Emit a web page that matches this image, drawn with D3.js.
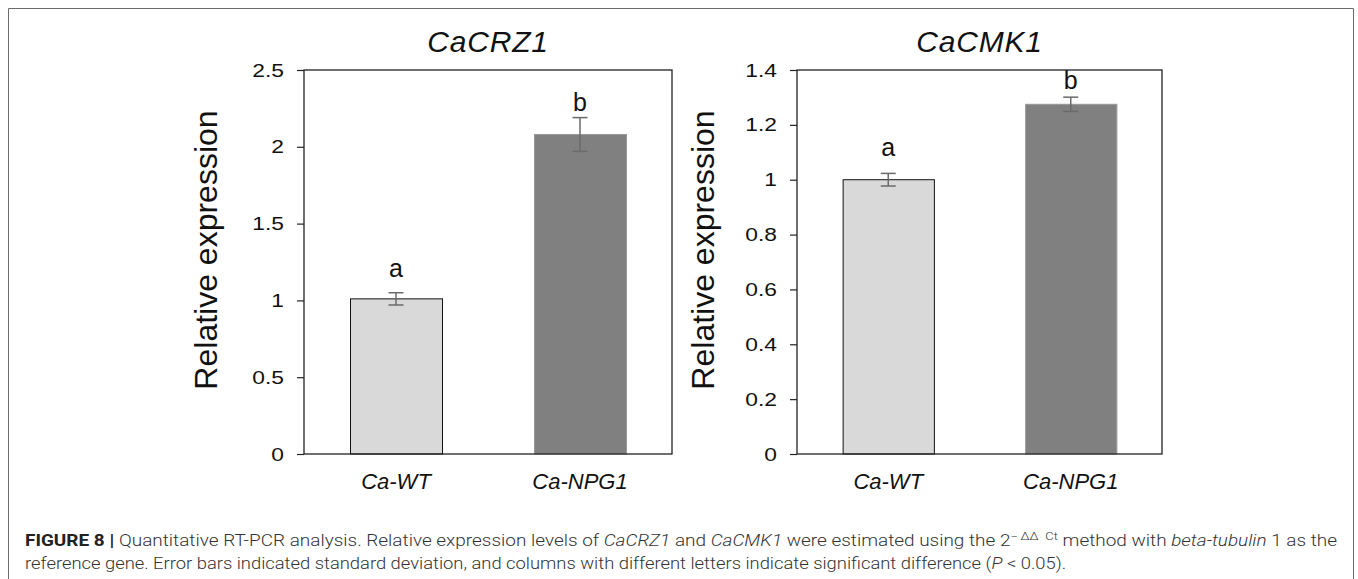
<!DOCTYPE html>
<html>
<head>
<meta charset="utf-8">
<script src="https://cdn.jsdelivr.net/npm/d3@7"></script>
<style>
  body { margin: 0; background: #fff; }
  svg { display: block; }
</style>
</head>
<body>
<svg id="chart" width="1358" height="579"></svg>
<script>
// Dữ liệu
const categories = ["Ca-WT", "Ca-NPG1"];
const barColors = ["#d9d9d9", "#808080"];

const crzTitle = "CaCRZ1";
const crzMeans = [1.01, 2.08];
const crzErrors = [0.04, 0.11];
const crzLetters = ["a", "b"];
const crzLetterY = [1.15, 2.23];
const crzTicks = [0, 0.5, 1, 1.5, 2, 2.5];

const cmkTitle = "CaCMK1";
const cmkMeans = [1.0, 1.275];
const cmkErrors = [0.023, 0.026];
const cmkLetters = ["a", "b"];
const cmkLetterY = [1.085, 1.33];
const cmkTicks = [0, 0.2, 0.4, 0.6, 0.8, 1, 1.2, 1.4];

const svg = d3.select("#chart");
const chartFont = "'Liberation Sans', Arial, sans-serif";

// Khung ngoài của hình
svg.append("path")
    .attr("d", "M8.5,579 V8.5 H1353.5 V579")
    .attr("fill", "none")
    .attr("stroke", "#6b6b6b")
    .attr("stroke-width", 1);

function drawPanel(cfg) {
    const { left, right, top, bottom, title, means, errors, letters, letterY, ticks, labelX } = cfg;

    const x = d3.scaleBand()
        .domain(categories)
        .range([left, right])
        .paddingInner(0.5)
        .paddingOuter(0.25);

    const y = d3.scaleLinear()
        .domain([0, d3.max(ticks)])
        .range([bottom, top]);

    const data = categories.map((c, i) => ({
        cat: c, mean: means[i], err: errors[i], letter: letters[i], ly: letterY[i], color: barColors[i]
    }));

    const g = svg.append("g");

    // Cột
    g.selectAll(".bar")
        .data(data)
        .enter().append("rect")
        .attr("class", "bar")
        .attr("x", d => x(d.cat) + 0.5)
        .attr("y", d => y(d.mean))
        .attr("width", x.bandwidth())
        .attr("height", d => y(0) - y(d.mean))
        .attr("fill", d => d.color)
        .attr("stroke", (d, i) => i === 0 ? "#111" : "#999")
        .attr("stroke-width", 1);

    // Thanh sai số
    const eb = g.selectAll(".err")
        .data(data)
        .enter().append("g")
        .attr("class", "err")
        .attr("stroke", "#6a6a6a")
        .attr("stroke-width", 1.5);

    eb.append("line")
        .attr("x1", d => x(d.cat) + x.bandwidth() / 2)
        .attr("x2", d => x(d.cat) + x.bandwidth() / 2)
        .attr("y1", d => y(d.mean + d.err))
        .attr("y2", d => y(d.mean - d.err));
    [1, -1].forEach(s => {
        eb.append("line")
            .attr("x1", d => x(d.cat) + x.bandwidth() / 2 - 7.5)
            .attr("x2", d => x(d.cat) + x.bandwidth() / 2 + 7.5)
            .attr("y1", d => y(d.mean + s * d.err))
            .attr("y2", d => y(d.mean + s * d.err));
    });

    // Chữ cái ý nghĩa
    g.selectAll(".letter")
        .data(data)
        .enter().append("text")
        .attr("class", "letter")
        .attr("x", d => x(d.cat) + x.bandwidth() / 2)
        .attr("y", d => y(d.ly))
        .attr("text-anchor", "middle")
        .style("font-family", chartFont)
        .style("font-size", "25px")
        .style("fill", "#111")
        .text(d => d.letter);

    // Khung trục
    g.append("rect")
        .attr("x", left)
        .attr("y", top)
        .attr("width", right - left)
        .attr("height", bottom - top)
        .attr("fill", "none")
        .attr("stroke", "#222")
        .attr("stroke-width", 1.3);

    // Trục Y
    const yAxis = g.append("g")
        .attr("transform", `translate(${left},0)`)
        .call(d3.axisLeft(y).tickValues(ticks).tickSize(7).tickPadding(13).tickFormat(d3.format("~g")));
    yAxis.select(".domain").remove();
    yAxis.selectAll("line").attr("stroke", "#222").attr("stroke-width", 1.2);
    // nhãn số trong hình gốc hơi bị kéo giãn theo chiều ngang
    yAxis.selectAll("text")
        .style("font-family", chartFont)
        .style("font-size", "19px")
        .style("fill", "#111")
        .attr("transform", "translate(-20,0) scale(1.2,1) translate(20,0)");

    // Nhãn danh mục
    g.selectAll(".cat")
        .data(data)
        .enter().append("text")
        .attr("class", "cat")
        .attr("x", d => x(d.cat) + x.bandwidth() / 2)
        .attr("y", bottom + 35)
        .attr("text-anchor", "middle")
        .style("font-family", chartFont)
        .style("font-size", "22px")
        .style("font-style", "italic")
        .style("fill", "#111")
        .text(d => d.cat);

    // Tiêu đề
    g.append("text")
        .attr("x", (left + right) / 2)
        .attr("y", 52)
        .attr("text-anchor", "middle")
        .style("font-family", chartFont)
        .style("font-size", "30px")
        .style("font-style", "italic")
        .style("letter-spacing", "0.8px")
        .style("fill", "#111")
        .text(title);

    // Nhãn trục Y
    g.append("text")
        .attr("transform", `translate(${labelX},${(top + bottom) / 2 - 12}) rotate(-90)`)
        .attr("text-anchor", "middle")
        .style("font-family", chartFont)
        .style("font-size", "32px")
        .style("fill", "#111")
        .text("Relative expression");
}

drawPanel({
    left: 304, right: 672, top: 70, bottom: 454,
    title: crzTitle, means: crzMeans, errors: crzErrors,
    letters: crzLetters, letterY: crzLetterY, ticks: crzTicks, labelX: 217
});

drawPanel({
    left: 797, right: 1162, top: 70, bottom: 454,
    title: cmkTitle, means: cmkMeans, errors: cmkErrors,
    letters: cmkLetters, letterY: cmkLetterY, ticks: cmkTicks, labelX: 714
});

// Chú thích hình
const capFont = "Roboto, 'Liberation Sans', sans-serif";
const captionLines = [
    {
        y: 546, width: 1313,
        parts: [
            { t: "FIGURE 8 | ", b: true },
            { t: "Quantitative RT-PCR analysis. Relative expression levels of " },
            { t: "CaCRZ1", i: true },
            { t: " and " },
            { t: "CaCMK1", i: true },
            { t: " were estimated using the 2" },
            { t: "\u2212\u2009\u0394\u0394\u2002Ct", sup: true },
            { t: " method with " },
            { t: "beta-tubulin", i: true },
            { t: " 1 as the" }
        ]
    },
    {
        y: 569, width: 1042,
        parts: [
            { t: "reference gene. Error bars indicated standard deviation, and columns with different letters indicate significant difference (" },
            { t: "P", i: true },
            { t: " < 0.05)." }
        ]
    }
];

captionLines.forEach(line => {
    const txt = svg.append("text")
        .attr("x", 0)
        .attr("y", 0)
        .style("font-family", capFont)
        .style("font-size", "16px")
        .style("font-weight", 300)
        .style("fill", "#333");
    let raised = false;
    line.parts.forEach(p => {
        const ts = txt.append("tspan").text(p.t);
        if (p.b) ts.style("font-weight", 700).style("fill", "#222");
        if (p.i) ts.style("font-style", "italic");
        if (p.sup) { ts.attr("dy", -6).style("font-size", "11px"); raised = true; }
        else if (raised) { ts.attr("dy", 6); raised = false; }
    });
    const w = txt.node().getComputedTextLength();
    txt.attr("transform", `translate(25,${line.y}) scale(${line.width / w},1)`);
});
</script>
</body>
</html>
